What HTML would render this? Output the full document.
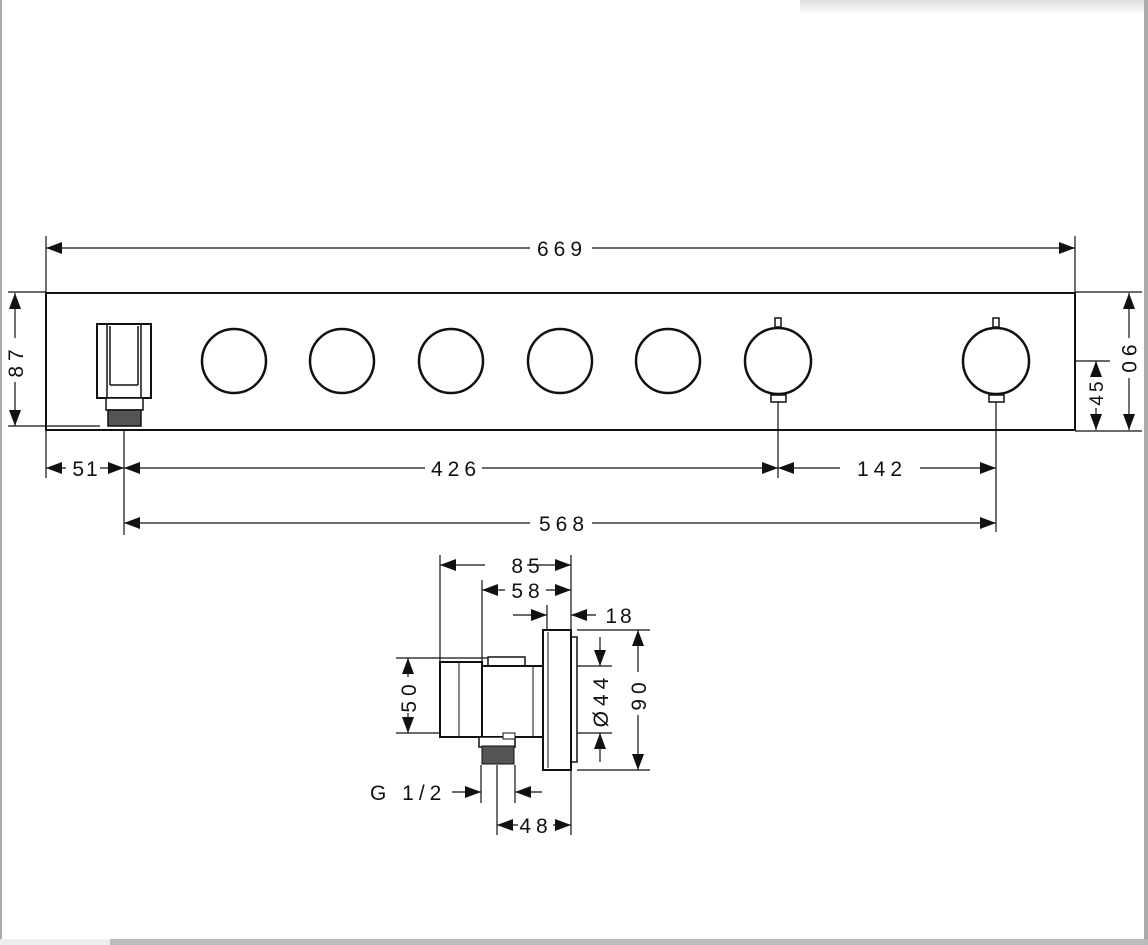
<!DOCTYPE html>
<html><head><meta charset="utf-8"><style>
html,body{margin:0;padding:0;background:#fff;}
svg{display:block}
text{font-family:"Liberation Sans",sans-serif;font-size:21px;fill:#111;letter-spacing:5px}
</style></head><body>
<svg width="1148" height="945" viewBox="0 0 1148 945" xmlns="http://www.w3.org/2000/svg">
<defs>
<marker id="a" viewBox="0 0 16 12" refX="16" refY="6" markerWidth="16" markerHeight="12" markerUnits="userSpaceOnUse" orient="auto-start-reverse"><path d="M0,0 L16,6 L0,12 z" fill="#111"/></marker>
<linearGradient id="sh" x1="0" y1="0" x2="0" y2="1"><stop offset="0" stop-color="#ddd"/><stop offset="1" stop-color="#fff"/></linearGradient>
</defs>
<rect x="0" y="0" width="2" height="940" fill="#aaa"/>
<rect x="1144" y="0" width="4" height="940" fill="#aaa"/>
<rect x="800" y="0" width="344" height="14" fill="url(#sh)"/>
<rect x="0" y="939" width="110" height="6" fill="#eee"/>
<rect x="110" y="939" width="1038" height="6" fill="#bbb"/>
<g stroke="#111" fill="none" stroke-width="1.2">
<line x1="46" y1="236" x2="46" y2="478"/>
<line x1="1075" y1="236" x2="1075" y2="430"/>
<line x1="8" y1="292" x2="46" y2="292"/>
<line x1="1075" y1="292" x2="1142" y2="292"/>
<line x1="8" y1="426" x2="100" y2="426"/>
<line x1="1075" y1="431" x2="1142" y2="431"/>
<line x1="1075" y1="361" x2="1110" y2="361"/>
<line x1="124" y1="430" x2="124" y2="535"/>
<line x1="778" y1="398" x2="778" y2="478"/>
<line x1="996" y1="398" x2="996" y2="532"/>
<line x1="46" y1="248" x2="530" y2="248" marker-start="url(#a)"/>
<line x1="592" y1="248" x2="1075" y2="248" marker-end="url(#a)"/>
<line x1="15" y1="293" x2="15" y2="338" marker-start="url(#a)"/>
<line x1="15" y1="382" x2="15" y2="426" marker-end="url(#a)"/>
<line x1="1129" y1="293" x2="1129" y2="338" marker-start="url(#a)"/>
<line x1="1129" y1="378" x2="1129" y2="430" marker-end="url(#a)"/>
<line x1="1096" y1="361" x2="1096" y2="374" marker-start="url(#a)"/>
<line x1="1096" y1="408" x2="1096" y2="430" marker-end="url(#a)"/>
<line x1="46" y1="468" x2="66" y2="468" marker-start="url(#a)"/>
<line x1="100" y1="468" x2="124" y2="468" marker-end="url(#a)"/>
<line x1="124" y1="468" x2="425" y2="468" marker-start="url(#a)"/>
<line x1="482" y1="468" x2="778" y2="468" marker-end="url(#a)"/>
<line x1="778" y1="468" x2="840" y2="468" marker-start="url(#a)"/>
<line x1="920" y1="468" x2="996" y2="468" marker-end="url(#a)"/>
<line x1="124" y1="523" x2="530" y2="523" marker-start="url(#a)"/>
<line x1="592" y1="523" x2="996" y2="523" marker-end="url(#a)"/>
</g>
<rect x="46" y="293" width="1029" height="137" fill="none" stroke="#111" stroke-width="2"/>
<g stroke="#111" fill="none" stroke-width="2.5">
<circle cx="234" cy="361" r="32"/>
<circle cx="342" cy="361" r="32"/>
<circle cx="451" cy="361" r="32"/>
<circle cx="560" cy="361" r="32"/>
<circle cx="668" cy="361" r="32"/>
<circle cx="778" cy="361" r="33"/>
<circle cx="996" cy="361" r="33"/>
</g>
<g stroke="#111" fill="#fff" stroke-width="1.5">
<rect x="775" y="318" width="6" height="9"/><rect x="771" y="395" width="15" height="7"/>
<rect x="993" y="318" width="6" height="9"/><rect x="989" y="395" width="15" height="7"/>
<rect x="97" y="324" width="54" height="74" stroke-width="2"/>
<line x1="107" y1="324" x2="107" y2="398"/><line x1="141" y1="324" x2="141" y2="398"/>
<line x1="110" y1="326" x2="110" y2="385"/><line x1="138" y1="326" x2="138" y2="385"/>
<line x1="110" y1="385" x2="138" y2="385"/>
<rect x="106" y="398" width="37" height="12"/>
<rect x="108" y="410" width="33" height="16" fill="#555"/>
</g>
<text x="562" y="256" text-anchor="middle">669</text>
<text transform="translate(23,361) rotate(-90)" text-anchor="middle">87</text>
<text transform="translate(1122,361) rotate(90)" text-anchor="middle">90</text>
<text transform="translate(1103,392) rotate(-90)" text-anchor="middle" style="font-size:19px;letter-spacing:3px">45</text>
<text x="86" y="476" text-anchor="middle" style="letter-spacing:2px">51</text>
<text x="456" y="476" text-anchor="middle">426</text>
<text x="882" y="476" text-anchor="middle">142</text>
<text x="564" y="531" text-anchor="middle">568</text>
<g stroke="#111" fill="none" stroke-width="1.2">
<line x1="440" y1="555" x2="440" y2="662"/>
<line x1="482" y1="580" x2="482" y2="662"/>
<line x1="571" y1="555" x2="571" y2="835"/>
<line x1="547" y1="605" x2="547" y2="630"/>
<line x1="396" y1="658" x2="488" y2="658"/>
<line x1="396" y1="733" x2="440" y2="733"/>
<line x1="577" y1="630" x2="650" y2="630"/>
<line x1="577" y1="770" x2="650" y2="770"/>
<line x1="577" y1="666" x2="612" y2="666"/>
<line x1="577" y1="733" x2="612" y2="733"/>
<line x1="481" y1="765" x2="481" y2="803"/>
<line x1="515" y1="765" x2="515" y2="803"/>
<line x1="497" y1="765" x2="497" y2="835"/>
<line x1="440" y1="565" x2="485" y2="565" marker-start="url(#a)"/>
<line x1="527" y1="565" x2="571" y2="565" marker-end="url(#a)"/>
<line x1="482" y1="590" x2="505" y2="590" marker-start="url(#a)"/>
<line x1="546" y1="590" x2="571" y2="590" marker-end="url(#a)"/>
<line x1="513" y1="615" x2="547" y2="615" marker-end="url(#a)"/>
<line x1="571" y1="615" x2="596" y2="615" marker-start="url(#a)"/>
<line x1="408" y1="658" x2="408" y2="677" marker-start="url(#a)"/>
<line x1="408" y1="713" x2="408" y2="733" marker-end="url(#a)"/>
<line x1="600" y1="637" x2="600" y2="666" marker-end="url(#a)"/>
<line x1="600" y1="762" x2="600" y2="733" marker-end="url(#a)"/>
<line x1="638" y1="630" x2="638" y2="672" marker-start="url(#a)"/>
<line x1="638" y1="715" x2="638" y2="770" marker-end="url(#a)"/>
<line x1="452" y1="792" x2="481" y2="792" marker-end="url(#a)"/>
<line x1="542" y1="792" x2="515" y2="792" marker-end="url(#a)"/>
<line x1="497" y1="825" x2="518" y2="825" marker-start="url(#a)"/>
<line x1="553" y1="825" x2="571" y2="825" marker-end="url(#a)"/>
</g>
<g stroke="#111" fill="#fff" stroke-width="2">
<rect x="565" y="637" width="12" height="125" stroke-width="1.5"/>
<rect x="543" y="630" width="28" height="140"/>
<line x1="548" y1="632" x2="548" y2="768" stroke-width="1"/>
<rect x="488" y="657" width="37" height="9" stroke-width="1.5"/>
<rect x="440" y="662" width="42" height="75"/>
<line x1="459" y1="663" x2="459" y2="736" stroke-width="1"/>
<rect x="482" y="666" width="61" height="71"/>
<line x1="533" y1="667" x2="533" y2="736" stroke-width="1"/>
<rect x="479" y="737" width="36" height="10" stroke-width="1.5"/>
<rect x="503" y="733" width="12" height="6" stroke-width="1"/>
<rect x="482" y="746" width="32" height="18" fill="#555" stroke-width="1"/>
</g>
<text x="528" y="573" text-anchor="middle">85</text>
<text x="528" y="598" text-anchor="middle">58</text>
<text x="620" y="623" text-anchor="middle" style="letter-spacing:3px">18</text>
<text transform="translate(416,696) rotate(-90)" text-anchor="middle">50</text>
<text transform="translate(608,700) rotate(-90)" text-anchor="middle">Ø44</text>
<text transform="translate(646,694) rotate(-90)" text-anchor="middle">90</text>
<text x="370" y="800">G 1/2</text>
<text x="536" y="833" text-anchor="middle">48</text>
</svg>
</body></html>
